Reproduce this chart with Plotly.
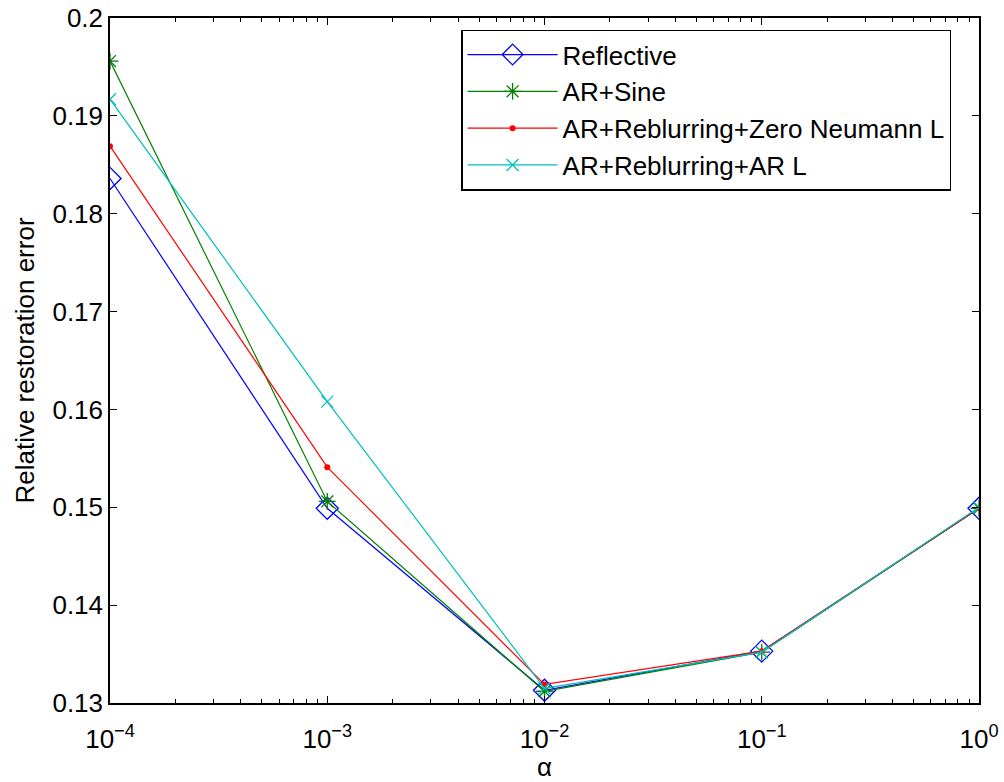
import plotly.graph_objects as go

alpha = [1e-4, 1e-3, 1e-2, 1e-1, 1e0]
reflective = [0.1836, 0.1499, 0.1313, 0.1353, 0.1499]
ar_sine = [0.1956, 0.1506, 0.1312, 0.1352, 0.1499]
ar_reblur_zn = [0.1869, 0.1541, 0.1319, 0.1353, 0.1499]
ar_reblur_ar = [0.1917, 0.1608, 0.1315, 0.1352, 0.1500]

x_tickvals = [1e-4, 1e-3, 1e-2, 1e-1, 1e0]
x_ticktext = ["10<sup>−4</sup>", "10<sup>−3</sup>", "10<sup>−2</sup>", "10<sup>−1</sup>", "10<sup>0</sup>"]
y_tickvals = [0.13, 0.14, 0.15, 0.16, 0.17, 0.18, 0.19, 0.2]
y_ticktext = ["0.13", "0.14", "0.15", "0.16", "0.17", "0.18", "0.19", "0.2"]

# minor log ticks: 2..9 within each decade
x_minor = [m * d for d in [1e-4, 1e-3, 1e-2, 1e-1] for m in range(2, 10)]

series = [
    ("Reflective", reflective, "#0000FF", dict(symbol="diamond-open", size=17, line=dict(width=1.3))),
    ("AR+Sine", ar_sine, "#008000", dict(symbol="asterisk-open", size=14, line=dict(width=1.3))),
    ("AR+Reblurring+Zero Neumann L", ar_reblur_zn, "#FF0000", dict(symbol="circle", size=6)),
    ("AR+Reblurring+AR L", ar_reblur_ar, "#00BFBF", dict(symbol="x-thin-open", size=12, line=dict(width=1.3))),
]

fig = go.Figure()
for name, ys, color, mk in series:
    marker = dict(color=color, **mk)
    if "line" in marker:
        marker["line"] = dict(color=color, width=mk["line"]["width"])
    fig.add_trace(go.Scatter(
        x=alpha, y=ys, name=name, mode="lines+markers",
        line=dict(color=color, width=1.2), marker=marker,
    ))

axis_common = dict(
    showgrid=False, zeroline=False, showline=True, linecolor="black", linewidth=1.5,
    mirror="allticks", ticks="inside", ticklen=7, tickcolor="black", tickwidth=1,
    tickfont=dict(size=26, color="black"), automargin=False,
)

fig.update_layout(
    width=1004, height=782,
    margin=dict(l=110, r=25, t=18, b=79),
    paper_bgcolor="white", plot_bgcolor="white",
    font=dict(family="Liberation Sans, Arial, sans-serif", size=26, color="black"),
    showlegend=True,
    legend=dict(
        x=0.404, y=0.983, xanchor="left", yanchor="top",
        bordercolor="black", borderwidth=1.5, bgcolor="white",
        font=dict(size=26), itemwidth=90, tracegroupgap=0,
    ),
    xaxis=dict(
        type="log", range=[-4, 0], tickvals=x_tickvals, ticktext=x_ticktext,
        ticklabelstandoff=12,
        minor=dict(tickvals=x_minor, ticks="inside", ticklen=4, tickcolor="black", showgrid=False),
        **axis_common,
    ),
    yaxis=dict(
        range=[0.13, 0.2], tickvals=y_tickvals, ticktext=y_ticktext,
        title=dict(text="Relative restoration error", standoff=10, font=dict(size=26)),
        **axis_common,
    ),
)

# x-axis label placed just under the tick labels
fig.add_annotation(
    text="α", xref="paper", yref="paper", x=0.5, y=-0.093,
    xanchor="center", yanchor="middle", showarrow=False, font=dict(size=26),
)

fig.write_html("out.html")
